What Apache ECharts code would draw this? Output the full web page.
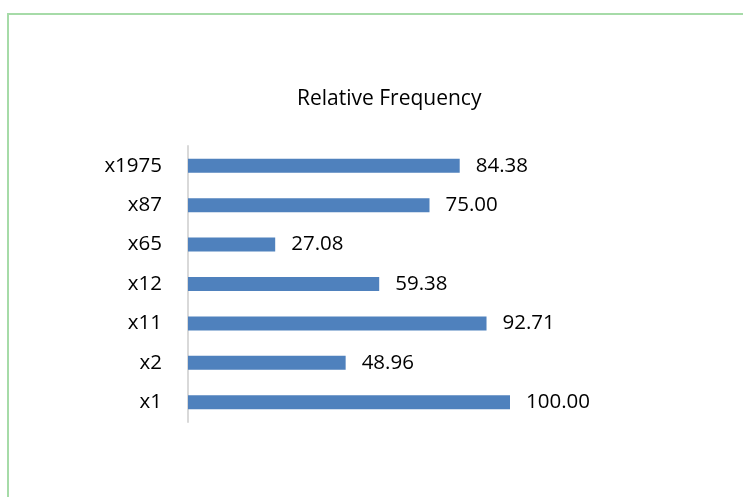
<!DOCTYPE html>
<html>
<head>
<meta charset="utf-8">
<script src="https://cdn.jsdelivr.net/npm/echarts@6/dist/echarts.min.js"></script>
<style>
html,body{margin:0;padding:0;background:#fff;}
#c{width:743px;height:497px;}
</style>
</head>
<body>
<div id="c"></div>
<script>
const chartTitle = 'Relative Frequency';
const categories = ['x1', 'x2', 'x11', 'x12', 'x65', 'x87', 'x1975'];
const values = [100.00, 48.96, 92.71, 59.38, 27.08, 75.00, 84.38];

const chart = echarts.init(document.getElementById('c'), null, {renderer: 'canvas'});
chart.setOption({
  animation: false,
  backgroundColor: '#fff',
  graphic: [{
    type: 'rect',
    shape: {x: 8, y: 14, width: 800, height: 600},
    style: {fill: 'none', stroke: '#a6dba8', lineWidth: 2}
  }],
  title: {
    text: chartTitle,
    left: 297,
    top: 89,
    padding: 0,
    textStyle: {fontFamily: 'Open Sans', fontSize: 21, fontWeight: 'normal', color: '#000'}
  },
  grid: {left: 188, right: 233, top: 146, bottom: 75, containLabel: false},
  xAxis: {
    type: 'value', min: 0, max: 100, show: false
  },
  yAxis: {
    type: 'category',
    data: categories,
    axisLine: {show: true, lineStyle: {color: '#d9d9d9', width: 2}},
    axisTick: {show: false},
    axisLabel: {margin: 26, fontFamily: 'Open Sans', fontSize: 20.5, color: '#000'},
    splitLine: {show: false}
  },
  series: [{
    type: 'bar',
    data: values,
    barWidth: 14,
    itemStyle: {color: '#4f81bd'},
    label: {
      show: true, position: 'right', distance: 16,
      fontFamily: 'Open Sans', fontSize: 20.5, color: '#000',
      formatter: p => p.value.toFixed(2)
    }
  }]
});
</script>
</body>
</html>
